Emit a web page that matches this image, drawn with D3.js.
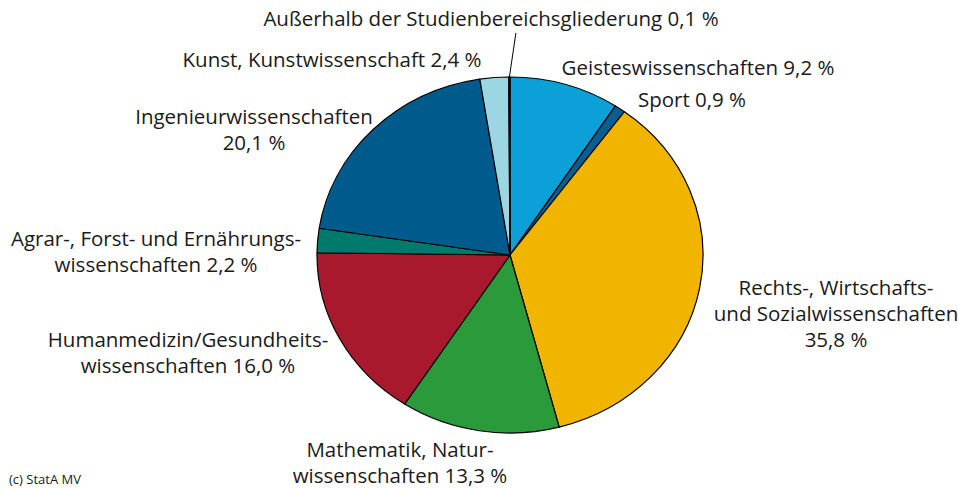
<!DOCTYPE html>
<html>
<head>
<meta charset="utf-8">
<script src="https://cdn.jsdelivr.net/npm/d3@7"></script>
<style>
html,body{margin:0;padding:0;background:#fff;}
svg text{font-family:"Open Sans","Noto Sans",sans-serif;fill:#1a1a1a;}
</style>
</head>
<body>
<svg id="chart" width="958" height="488"></svg>
<script>
// Data
const categories = [
  "Geisteswissenschaften",
  "Sport",
  "Rechts-, Wirtschafts- und Sozialwissenschaften",
  "Mathematik, Naturwissenschaften",
  "Humanmedizin/Gesundheitswissenschaften",
  "Agrar-, Forst- und Ernährungswissenschaften",
  "Ingenieurwissenschaften",
  "Kunst, Kunstwissenschaft",
  "Außerhalb der Studienbereichsgliederung"
];
const values = [9.2, 0.9, 35.8, 13.3, 16.0, 2.2, 20.1, 2.4, 0.1];
const valueLabels = ["9,2 %", "0,9 %", "35,8 %", "13,3 %", "16,0 %", "2,2 %", "20,1 %", "2,4 %", "0,1 %"];
const labelLines = [
  ["Geisteswissenschaften 9,2 %"],
  ["Sport 0,9 %"],
  ["Rechts-, Wirtschafts-", "und Sozialwissenschaften", "35,8 %"],
  ["Mathematik, Natur-", "wissenschaften 13,3 %"],
  ["Humanmedizin/Gesundheits-", "wissenschaften 16,0 %"],
  ["Agrar-, Forst- und Ernährungs-", "wissenschaften 2,2 %"],
  ["Ingenieurwissenschaften", "20,1 %"],
  ["Kunst, Kunstwissenschaft 2,4 %"],
  ["Außerhalb der Studienbereichsgliederung 0,1 %"]
];
const colors = ["#0ba0d8", "#075f91", "#f1b500", "#2a9a3b", "#a9192e", "#007a6c", "#005b8d", "#9dd6e3", "#5a5a5a"];

// Layout (label positions: x center, y of first line middle)
const labelLayout = [
  {x: 698, y: 68},
  {x: 692, y: 100},
  {x: 836, y: 288},
  {x: 400, y: 450},
  {x: 188, y: 340},
  {x: 156, y: 239},
  {x: 254, y: 117},
  {x: 332, y: 60},
  {x: 491, y: 19}
];
const cx = 510, cy = 255, rx = 193, ry = 178;
const lineH = 26;

const svg = d3.select("#chart");

const pie = d3.pie().sort(null).value(d => d);
const arcs = pie(values);
const arc = d3.arc().innerRadius(0).outerRadius(ry);

const g = svg.append("g")
  .attr("transform", `translate(${cx},${cy}) scale(${rx/ry},1)`);

g.selectAll("path")
  .data(arcs)
  .join("path")
  .attr("d", arc)
  .attr("fill", (d, i) => colors[i])
  .attr("stroke", "#000")
  .attr("stroke-width", 1.2)
  .attr("stroke-linejoin", "round")
  .attr("vector-effect", "non-scaling-stroke");

// leader line for tiny slice
const last = arcs[arcs.length - 1];
const midA = (last.startAngle + last.endAngle) / 2;
const px = cx + rx * Math.sin(midA), py = cy - ry * Math.cos(midA);
svg.append("line")
  .attr("x1", px).attr("y1", py)
  .attr("x2", px + 6.5).attr("y2", 33)
  .attr("stroke", "#000").attr("stroke-width", 1);

// labels
const lbl = svg.append("g");
labelLines.forEach((lines, i) => {
  const t = lbl.append("text")
    .attr("text-anchor", "middle")
    .attr("font-size", 20.5);
  lines.forEach((ln, j) => {
    t.append("tspan")
      .attr("x", labelLayout[i].x)
      .attr("y", labelLayout[i].y + j * lineH)
      .attr("dy", "0.35em")
      .text(ln);
  });
});

svg.append("text")
  .attr("x", 9).attr("y", 484)
  .attr("font-size", 13)
  .text("(c) StatA MV");
</script>
</body>
</html>
